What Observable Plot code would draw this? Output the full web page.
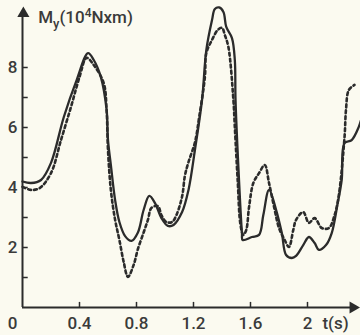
<!DOCTYPE html>
<html><head><meta charset="utf-8">
<script src="https://cdn.jsdelivr.net/npm/d3@7"></script>
<script src="https://cdn.jsdelivr.net/npm/@observablehq/plot@0.6"></script>
<style>
html,body{margin:0;padding:0;background:#fbfaf0;}
#chart svg{display:block;}
</style></head>
<body><div id="chart"></div>
<script>
const tSolid = [0.00,0.06,0.13,0.20,0.29,0.38,0.46,0.50,0.55,0.59,0.60,0.62,0.65,0.68,0.72,0.765,0.81,0.85,0.89,0.93,0.975,1.02,1.06,1.12,1.165,1.21,1.26,1.29,1.33,1.35,1.38,1.41,1.43,1.47,1.49,1.495,1.515,1.54,1.545,1.61,1.66,1.69,1.73,1.78,1.82,1.85,1.89,1.92,1.97,2.01,2.05,2.08,2.13,2.17,2.21,2.24,2.26,2.31,2.36,2.38];
const vSolid = [4.2,4.15,4.25,4.82,6.35,7.58,8.48,8.25,7.68,6.6,5.58,4.75,3.58,2.85,2.38,2.22,2.5,3.25,3.72,3.48,2.98,2.72,2.75,3.18,3.92,5.25,6.92,8.58,9.58,9.95,10.0,9.85,9.35,8.98,8.25,6.92,4.68,2.48,2.25,2.35,2.42,3.08,3.92,3.25,2.48,1.75,1.65,1.72,2.08,2.35,2.15,1.92,2.08,2.48,3.42,4.25,5.48,5.58,6.02,6.32];
const tDashed = [0.00,0.06,0.12,0.20,0.27,0.34,0.40,0.45,0.50,0.57,0.59,0.60,0.62,0.65,0.68,0.71,0.74,0.78,0.81,0.85,0.88,0.905,0.95,0.975,1.01,1.05,1.08,1.12,1.14,1.165,1.21,1.24,1.28,1.29,1.33,1.37,1.40,1.42,1.445,1.48,1.49,1.51,1.53,1.55,1.57,1.59,1.62,1.66,1.70,1.73,1.77,1.80,1.84,1.87,1.90,1.92,1.97,2.01,2.05,2.10,2.15,2.19,2.22,2.26,2.27,2.29,2.33];
const vDashed = [4.02,3.92,3.98,4.48,5.58,6.68,7.68,8.32,8.08,7.48,6.6,5.25,3.92,2.92,2.25,1.52,1.02,1.42,1.95,2.5,2.92,3.32,3.38,3.08,2.85,2.85,3.08,3.7,4.4,4.85,5.5,6.35,7.68,8.48,8.92,9.25,9.32,9.08,8.68,6.92,6.02,4.25,2.75,2.42,2.58,3.35,4.15,4.48,4.75,4.15,3.25,2.65,2.25,2.02,2.58,2.92,3.18,2.82,2.98,2.65,2.65,3.08,3.75,5.68,6.58,7.25,7.42];
const xTicks = [0.4, 0.8, 1.2, 1.6, 2];
const xTickLabels = ["0.4", "0.8", "1.2", "1.6", "2"];
const yTicks = [1, 2, 3, 4, 5, 6, 7, 8];
const yTickLabels = [2, 4, 6, 8];
const yLabel = "My(10⁴Nxm)";
const xLabel = "t(s)";

const solid = tSolid.map((t, i) => ({t, v: vSolid[i]}));
const dashed = tDashed.map((t, i) => ({t, v: vDashed[i]}));
const ink = "#2b2b2b";
const txt = "#3a3a3a";
const font = "Roboto, 'DejaVu Sans', sans-serif";

const plot = Plot.plot({
  width: 360, height: 335,
  marginLeft: 22, marginRight: 0, marginTop: 0, marginBottom: 28,
  style: {background: "#fbfaf0", fontFamily: font},
  x: {domain: [0, 2.372], axis: null},
  y: {domain: [0, 10.233], axis: null},
  marks: [
    Plot.ruleX([0], {y1: 0, y2: 9.7, stroke: ink, strokeWidth: 2}),
    Plot.ruleY([0], {x1: 0, x2: 2.31, stroke: ink, strokeWidth: 2}),
    Plot.dot([{t: 0.006, v: 9.8}], {x: "t", y: "v", symbol: "triangle", r: 4.5, fill: ink, stroke: null}),
    Plot.dot([{t: 2.32, v: 0}], {x: "t", y: "v", symbol: "triangle", r: 4.5, fill: ink, stroke: null, rotate: 90}),
    Plot.ruleY(yTicks, {x1: 0, x2: 0.04, stroke: ink, strokeWidth: 1.5}),
    Plot.ruleX(xTicks, {y1: 0, y2: 0.17, stroke: ink, strokeWidth: 1.5}),
    Plot.text(yTickLabels, {x: 0, y: d => d, text: d => String(d), dx: -10, fontSize: 17, fontWeight: 500, fill: txt, textAnchor: "middle"}),
    Plot.text(xTicks, {x: d => d, y: 0, text: (d, i) => xTickLabels[i], dy: 16, fontSize: 17, fontWeight: 500, fill: txt, textAnchor: "middle"}),
    Plot.text(["0"], {x: 0, y: 0, text: d => d, dx: -10, dy: 16, fontSize: 17, fontWeight: 500, fill: txt}),
    Plot.text([xLabel], {x: 2.105, y: 0, text: d => d, dy: 16, fontSize: 17, fontWeight: 500, fill: txt, textAnchor: "start"}),
    Plot.text([yLabel], {x: 0.11, y: 9.65, text: d => d, fontSize: 17, fontWeight: 500, fill: txt, textAnchor: "start", className: "ylab"}),
    Plot.line(dashed, {x: "t", y: "v", curve: "catmull-rom", stroke: ink, strokeWidth: 2.6, strokeDasharray: "3,3"}),
    Plot.line(solid, {x: "t", y: "v", curve: "catmull-rom", stroke: ink, strokeWidth: 2.3})
  ]
});
document.getElementById("chart").appendChild(plot);
// subscript y and superscript 4 in the axis label
d3.select(plot).selectAll("g.ylab text").each(function() {
  const el = d3.select(this);
  el.text(null);
  el.append("tspan").text("M");
  el.append("tspan").attr("dy", 5).attr("font-size", 13).text("y");
  el.append("tspan").attr("dy", -5).text("(10");
  el.append("tspan").attr("dy", -6).attr("font-size", 12).text("4");
  el.append("tspan").attr("dy", 6).text("Nxm)");
});
</script></body></html>
